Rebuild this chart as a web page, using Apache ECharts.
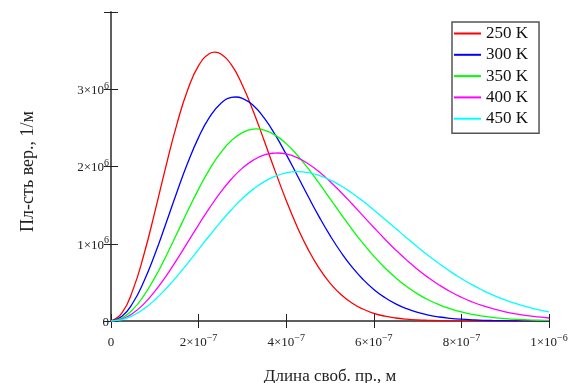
<!DOCTYPE html>
<html>
<head>
<meta charset="utf-8">
<script src="https://cdn.jsdelivr.net/npm/echarts@6/dist/echarts.min.js"></script>
<style>
  html, body { margin: 0; padding: 0; background: #fff; }
  #chart { width: 571px; height: 383px; }
</style>
</head>
<body>
<div id="chart"></div>
<script>
// mean free path, units of 1e-7 m
const lambda = [0, 0.25, 0.5, 0.75, 1, 1.25, 1.5, 1.75, 2, 2.25, 2.5, 2.75, 3, 3.25, 3.5, 3.75, 4, 4.25, 4.5, 4.75,
  5, 5.25, 5.5, 5.75, 6, 6.25, 6.5, 6.75, 7, 7.25, 7.5, 7.75, 8, 8.25, 8.5, 8.75, 9, 9.25, 9.5, 9.75, 10];

// probability density, units of 1e6 1/m
const t250 = [0, 0.104, 0.403, 0.857, 1.409, 1.993, 2.539, 2.990, 3.305, 3.462, 3.459, 3.314, 3.053, 2.713, 2.330, 1.937, 1.561, 1.221, 0.927, 0.684,
  0.491, 0.343, 0.234, 0.155, 0.100, 0.063, 0.039, 0.023, 0.013, 0.008, 0.004, 0.002, 0.001, 0.001, 0, 0, 0, 0, 0, 0, 0];
const t300 = [0, 0.060, 0.236, 0.512, 0.861, 1.255, 1.661, 2.044, 2.377, 2.639, 2.813, 2.894, 2.883, 2.789, 2.625, 2.409, 2.157, 1.887, 1.614, 1.351,
  1.108, 0.890, 0.700, 0.541, 0.409, 0.304, 0.222, 0.159, 0.112, 0.077, 0.052, 0.035, 0.023, 0.015, 0.009, 0.006, 0.004, 0.002, 0.001, 0.001, 0];
const t350 = [0, 0.038, 0.150, 0.328, 0.561, 0.832, 1.126, 1.423, 1.707, 1.962, 2.175, 2.336, 2.439, 2.484, 2.471, 2.406, 2.296, 2.149, 1.975, 1.784,
  1.584, 1.384, 1.189, 1.007, 0.840, 0.690, 0.559, 0.446, 0.351, 0.272, 0.209, 0.158, 0.117, 0.086, 0.063, 0.045, 0.032, 0.022, 0.015, 0.010, 0.007];
const t400 = [0, 0.026, 0.101, 0.222, 0.384, 0.576, 0.791, 1.018, 1.245, 1.464, 1.664, 1.838, 1.979, 2.083, 2.149, 2.174, 2.162, 2.115, 2.036, 1.932,
  1.807, 1.667, 1.518, 1.364, 1.211, 1.062, 0.920, 0.788, 0.667, 0.559, 0.463, 0.379, 0.307, 0.246, 0.195, 0.153, 0.119, 0.092, 0.070, 0.053, 0.039];
const t450 = [0, 0.018, 0.071, 0.157, 0.273, 0.414, 0.574, 0.747, 0.927, 1.107, 1.280, 1.441, 1.585, 1.707, 1.804, 1.875, 1.918, 1.933, 1.922, 1.886,
  1.827, 1.750, 1.657, 1.552, 1.438, 1.318, 1.197, 1.076, 0.958, 0.845, 0.739, 0.639, 0.549, 0.467, 0.394, 0.329, 0.273, 0.224, 0.183, 0.148, 0.119];

// maximum of each curve (position in 1e-7 m, height in 1e6 1/m)
const peakX = [2.37, 2.84, 3.32, 3.79, 4.27];
const peakY = [3.48, 2.90, 2.486, 2.175, 1.933];

const seriesNames = ["250 K", "300 K", "350 K", "400 K", "450 K"];
const seriesColors = ["#ff0000", "#0000ff", "#00ff00", "#ff00ff", "#00ffff"];
const seriesData = [t250, t300, t350, t400, t450];

const font = "Liberation Serif, Times New Roman, serif";
const frame = { show: true, lineStyle: { color: "#555", width: 1.5 } };
const ticks = { show: true, inside: true, length: 7, lineStyle: { color: "#222", width: 1 } };
const rich = {
  b: { fontFamily: font, fontSize: 13, color: "#222", lineHeight: 16, verticalAlign: "bottom" },
  s: { fontFamily: font, fontSize: 10, color: "#222", lineHeight: 10, verticalAlign: "top" },
};

function curve(i) {
  const pts = lambda.map((x, j) => [x, seriesData[i][j]]);
  pts.push([peakX[i], peakY[i]]);
  return pts.sort((a, b) => a[0] - b[0]);
}

const chart = echarts.init(document.getElementById("chart"));

chart.setOption({
  animation: false,
  grid: { left: 111, right: 22, top: 12, bottom: 62, containLabel: false, outerBoundsMode: "none" },
  legend: {
    orient: "vertical",
    left: 452,
    top: 22,
    padding: [3, 11, 6, 2],
    itemGap: 4.3,
    itemWidth: 27,
    itemHeight: 2,
    icon: "rect",
    backgroundColor: "#fff",
    borderColor: "#555",
    borderWidth: 1.5,
    borderRadius: 0,
    textStyle: { fontFamily: font, fontSize: 17, color: "#111" },
    data: seriesNames,
  },
  xAxis: [
    {
      type: "value",
      min: 0,
      max: 10,
      interval: 2,
      name: "Длина своб. пр., м",
      nameLocation: "middle",
      nameGap: 47,
      nameTextStyle: { fontFamily: font, fontSize: 17, color: "#222" },
      axisLine: frame,
      axisTick: ticks,
      splitLine: { show: false },
      axisLabel: {
        margin: 12,
        rich,
        formatter: (v) => {
          if (v === 0) return "{b|0}";
          if (v === 10) return "{b|1×10}{s|−6}";
          return "{b|" + v + "×10}{s|−7}";
        },
      },
    },
    {
      type: "value",
      position: "top",
      min: 0,
      max: 10,
      interval: 2,
      axisLine: frame,
      axisTick: ticks,
      axisLabel: { show: false },
      splitLine: { show: false },
    },
  ],
  yAxis: [
    {
      type: "value",
      min: 0,
      max: 4,
      interval: 1,
      name: "Пл-сть вер., 1/м",
      nameLocation: "middle",
      nameGap: 74,
      nameTextStyle: { fontFamily: font, fontSize: 18, color: "#222", padding: [0, 10, 0, 0] },
      axisLine: frame,
      axisTick: ticks,
      splitLine: { show: false },
      axisLabel: {
        margin: 2,
        rich,
        formatter: (v) => {
          if (v === 0) return "{b|0}";
          if (v === 4) return "";
          return "{b|" + v + "×10}{s|6}";
        },
      },
    },
    {
      type: "value",
      position: "right",
      min: 0,
      max: 4,
      interval: 1,
      axisLine: frame,
      axisTick: ticks,
      axisLabel: { show: false },
      splitLine: { show: false },
    },
  ],
  series: seriesNames.map((name, i) => ({
    name,
    type: "line",
    data: curve(i),
    smooth: 0.5,
    showSymbol: false,
    lineStyle: { width: 1.3, color: seriesColors[i] },
    itemStyle: { color: seriesColors[i] },
  })),
});
</script>
</body>
</html>
